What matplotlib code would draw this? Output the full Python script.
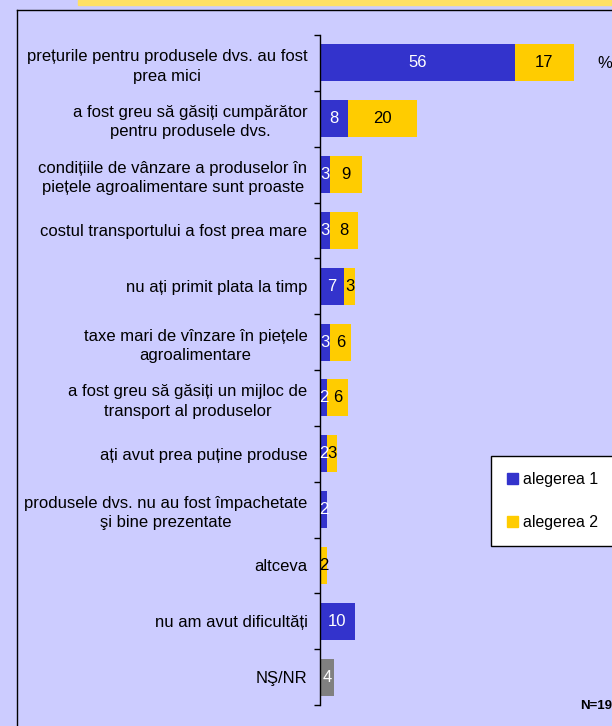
import matplotlib

matplotlib.use("Agg")
import matplotlib.pyplot as plt
from matplotlib.lines import Line2D
from matplotlib.patches import Patch, Rectangle

plt.rcParams["font.family"] = ["Liberation Sans", "DejaVu Sans"]

categories = [
    "prețurile pentru produsele dvs. au fost\nprea mici",
    "a fost greu să găsiți cumpărător\npentru produsele dvs.",
    "condițiile de vânzare a produselor în\npiețele agroalimentare sunt proaste",
    "costul transportului a fost prea mare",
    "nu ați primit plata la timp",
    "taxe mari de vînzare în piețele\nagroalimentare",
    "a fost greu să găsiți un mijloc de\ntransport al produselor",
    "ați avut prea puține produse",
    "produsele dvs. nu au fost împachetate\nşi bine prezentate",
    "altceva",
    "nu am avut dificultăți",
    "NŞ/NR",
]
choice1 = [56, 8, 3, 3, 7, 3, 2, 2, 2, 0, 10, 0]
choice2 = [17, 20, 9, 8, 3, 6, 6, 3, 0, 2, 0, 0]
dk_nr = [0, 0, 0, 0, 0, 0, 0, 0, 0, 0, 0, 4]
series_names = ["alegerea 1", "alegerea 2"]

BG = "#CCCCFF"
BLUE = "#3333CC"
YELLOW = "#FFCC00"
GREY = "#808080"
FS = 12

W, H = 612, 726
fig = plt.figure(figsize=(W / 100, H / 100), dpi=100, facecolor=BG)
ax = fig.add_axes([320 / W, 1 - 705 / H, 1 - 320 / W, (705 - 35) / H])
ax.set_facecolor(BG)

y = list(range(len(categories)))
ax.barh(y, choice1, height=0.66, color=BLUE, label=series_names[0])
ax.barh(y, choice2, left=choice1, height=0.66, color=YELLOW, label=series_names[1])
ax.barh(y, dk_nr, height=0.66, color=GREY)

for i in y:
    if choice1[i]:
        ax.text(choice1[i] / 2, i, str(choice1[i]), ha="center", va="center",
                color="white", fontsize=FS)
    if choice2[i]:
        ax.text(choice1[i] + choice2[i] / 2, i, str(choice2[i]), ha="center",
                va="center", color="black", fontsize=FS)
    if dk_nr[i]:
        ax.text(dk_nr[i] / 2, i, str(dk_nr[i]), ha="center", va="center",
                color="white", fontsize=FS)

ax.set_xlim(0, 292 / 3.48)
ax.set_ylim(len(categories) - 0.5, -0.5)
ax.set_xticks([])
ax.set_yticks(y)
ax.set_yticklabels(categories, fontsize=FS, linespacing=1.35,
                   multialignment="center")
ax.tick_params(axis="y", which="major", length=0, pad=9)
ax.set_yticks([i - 0.5 for i in range(len(categories) + 1)], minor=True)
ax.tick_params(axis="y", which="minor", length=4.5, width=1.0, direction="out")
for s in ("top", "right", "bottom"):
    ax.spines[s].set_visible(False)
ax.spines["left"].set_linewidth(1.0)

# % sign and sample size
fig.text(597 / W, 1 - 63 / H, "%", fontsize=FS, ha="left", va="center")
fig.text(580 / W, 1 - 706 / H, "N=19", fontsize=9.5, fontweight="bold",
         ha="left", va="center")

# legend box
leg = fig.legend(handles=[Patch(color=BLUE), Patch(color=YELLOW)],
                 labels=series_names, loc="upper left",
                 bbox_to_anchor=(491 / W, 1 - 456 / H), fontsize=11.4,
                 frameon=True, fancybox=False, edgecolor="black",
                 framealpha=1.0, handlelength=0.7, handleheight=0.7,
                 handletextpad=0.3, labelspacing=1.8, borderpad=1.0,
                 borderaxespad=0)
leg.get_frame().set_linewidth(1.0)
leg.get_frame().set_facecolor("white")

# outer frame and cut-off title bar
fig.add_artist(Line2D([17 / W, 17 / W], [0, 1 - 10 / H], color="black", lw=1.0,
                      transform=fig.transFigure))
fig.add_artist(Line2D([17 / W, 1], [1 - 10 / H, 1 - 10 / H], color="black",
                      lw=1.0, transform=fig.transFigure))
fig.add_artist(Rectangle((78 / W, 1 - 5 / H), 1, 5 / H, color="#FFE066",
                         transform=fig.transFigure))

fig.savefig("out.png", dpi=100, facecolor=BG)
